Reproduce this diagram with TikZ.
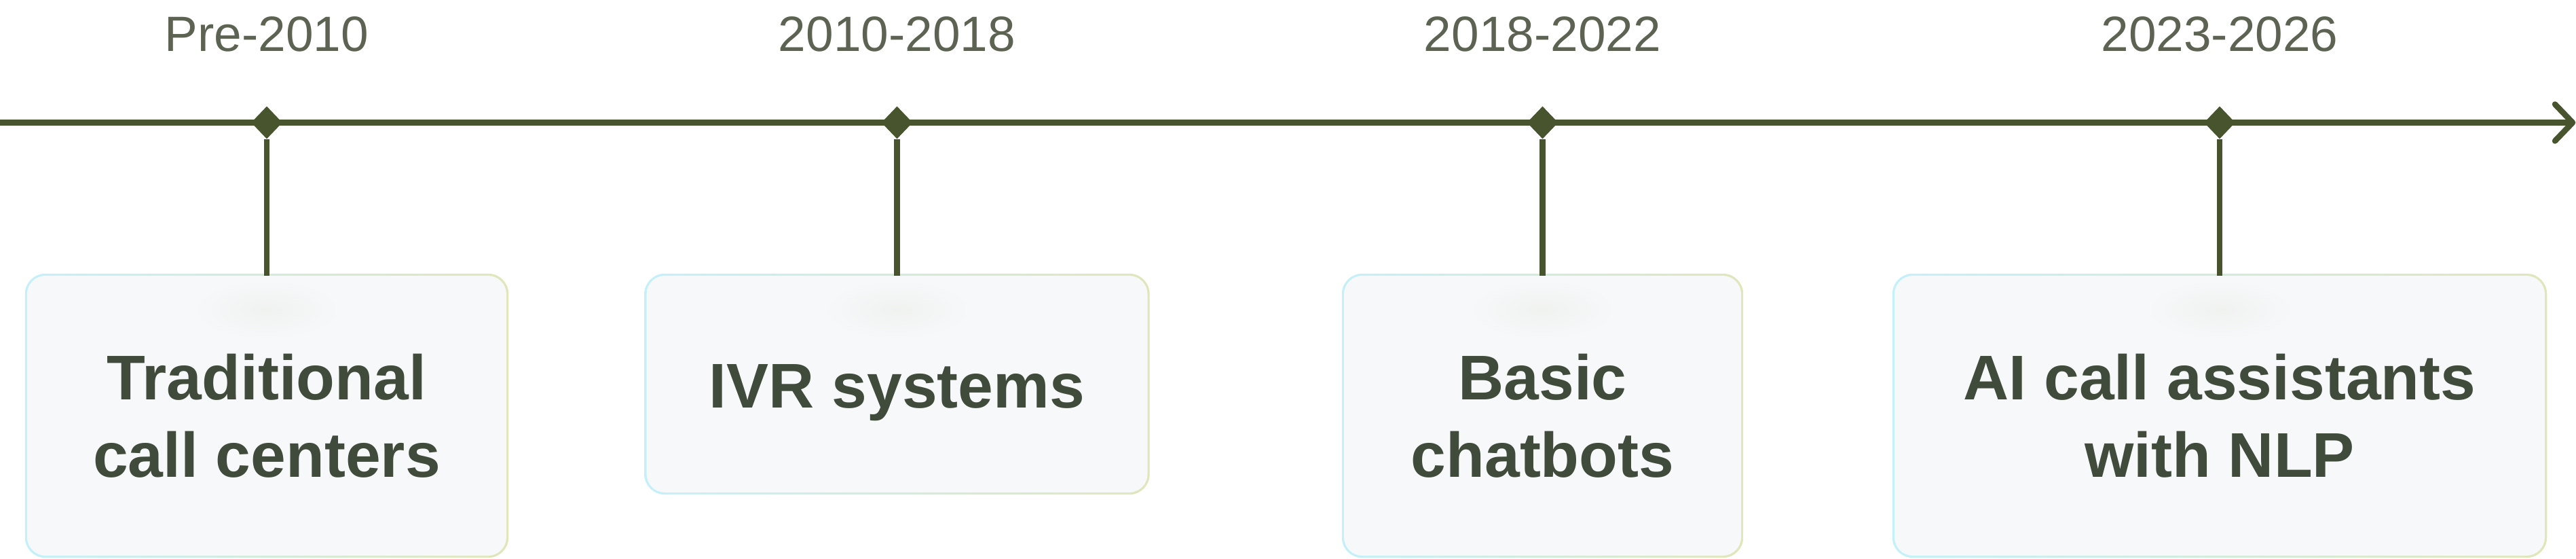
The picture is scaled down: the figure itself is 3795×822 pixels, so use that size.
\documentclass[tikz,border=0pt]{standalone}
\usepackage{fontspec}
\setmainfont{Liberation Sans}
\usetikzlibrary{shapes.geometric,backgrounds,calc}
\definecolor{axisc}{HTML}{47542E}
\definecolor{labelc}{HTML}{404B3B}
\definecolor{yearc}{HTML}{5C6352}
\definecolor{boxfill}{HTML}{F7F8FA}
\definecolor{bordL}{HTML}{C4F0FB}
\definecolor{bordR}{HTML}{E1E6BA}
\definecolor{glowc}{HTML}{F0F2F0}
\tikzset{
  axisline/.style={draw=axisc, line width=8.5pt},
  marker/.style={diamond, fill=axisc, draw=none, inner sep=0pt, minimum width=46pt, minimum height=48pt},
  yearlabel/.style={anchor=base, text=yearc, inner sep=0pt, font=\fontsize{73}{80}\selectfont},
  tbox/.style={rectangle, rounded corners=27pt, fill=boxfill, text=labelc, align=center, inner sep=0pt,
    font=\fontsize{93}{114.3}\selectfont\bfseries},
}
\newcommand\gradborder[1]{%
  \begin{scope}[on background layer]
    \shade[left color=bordL, right color=bordR, rounded corners=30pt]
      ($(#1.north west)+(-3,-3)$) rectangle ($(#1.south east)+(3,3)$);
  \end{scope}
  \shade[inner color=glowc, outer color=boxfill] ($(#1.north)+(0,50)$) ellipse [x radius=110, y radius=45];
}
\begin{document}
\begin{tikzpicture}[x=1pt, y=-1pt]
  \useasboundingbox (0,0) rectangle (3795,822);
  % axis
  \coordinate (axstart) at (0,180.5);
  \coordinate (tip) at (3790,180.5);
  \coordinate (arm1) at (3764,153.5);
  \coordinate (arm2) at (3764,207.5);
  \draw[axisline] (axstart) -- (tip);
  \draw[axisline, line cap=round, line join=round] (arm1) -- (tip) -- (arm2);
  % markers
  \node[marker] (d1) at (393,180.5) {};
  \node[marker] (d2) at (1321.5,180.5) {};
  \node[marker] (d3) at (2272.5,180.5) {};
  \node[marker] (d4) at (3270,180.5) {};
  % years
  \node[yearlabel] (y1) at (393,75) {Pre-2010};
  \node[yearlabel] (y2) at (1321.5,75) {2010-2018};
  \node[yearlabel] (y3) at (2272.5,75) {2018-2022};
  \node[yearlabel] (y4) at (3270,75) {2023-2026};
  % boxes
  \node[tbox, minimum width=706, minimum height=412] (b1) at (393,612) {Traditional\\call centers};
  \node[tbox, minimum width=738, minimum height=319, text height=90pt, text depth=20pt] (b2) at (1321.5,565.5) {IVR systems};
  \node[tbox, minimum width=585, minimum height=412] (b3) at (2272.5,612) {Basic\\chatbots};
  \node[tbox, minimum width=958, minimum height=412] (b4) at (3270,612) {AI call assistants\\with NLP};
  \gradborder{b1}
  \gradborder{b2}
  \gradborder{b3}
  \gradborder{b4}
  % stems
  \draw[axisline] (d1) -- (b1);
  \draw[axisline] (d2) -- (b2);
  \draw[axisline] (d3) -- (b3);
  \draw[axisline] (d4) -- (b4);
\end{tikzpicture}
\end{document}
